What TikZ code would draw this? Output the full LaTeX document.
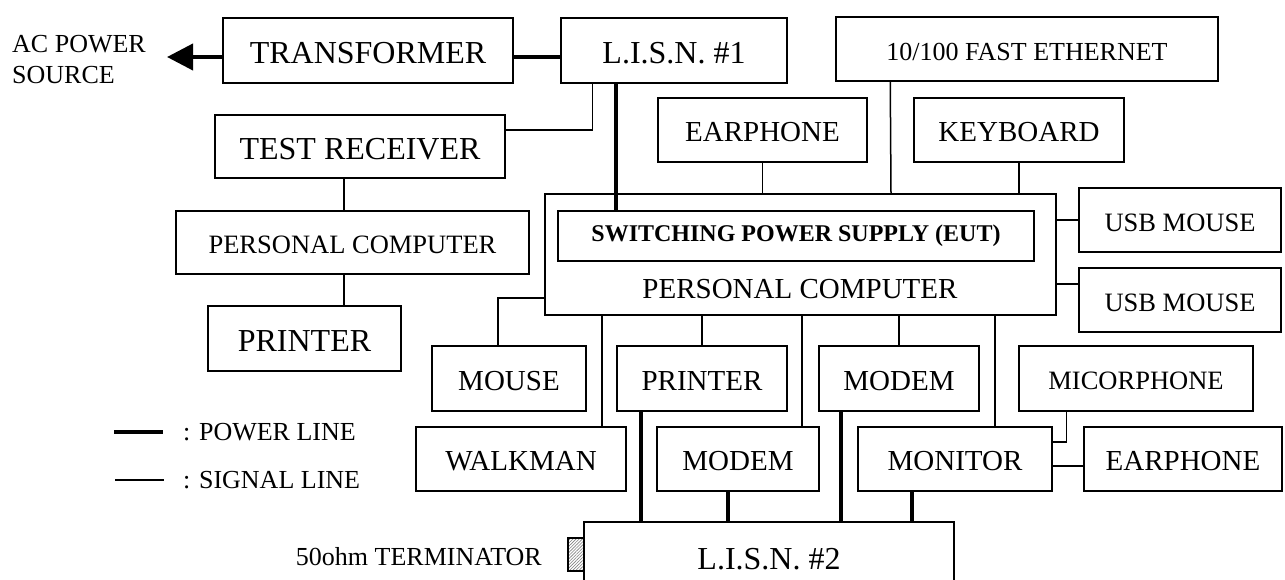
\documentclass[tikz,border=0pt]{standalone}
\usepackage{fontspec}
\setmainfont{Liberation Serif}
\usetikzlibrary{arrows.meta,patterns.meta}
% lower a label a little inside its box, keeping the box size
\newcommand\lowr[1]{\raisebox{-2.5pt}[\height][\depth]{#1}}
\tikzset{
  unit/.style={draw,line width=1.5pt,inner sep=0pt,align=center},
  big/.style={font=\fontsize{32}{36}\selectfont},
  mid/.style={font=\fontsize{29}{33}\selectfont},
  sml/.style={font=\fontsize{26.5}{31}\selectfont},
  note/.style={inner sep=0pt,font=\fontsize{26}{31}\selectfont},
  sig/.style={line width=1.5pt},
  pwr/.style={line width=4pt},
}
\begin{document}
\begin{tikzpicture}[x=1pt,y=-1pt]
\clip (0,0) rectangle (1285,580);
\fill[white] (0,0) rectangle (1285,580);

% top row
\node[unit,big,minimum width=290pt,minimum height=65pt] (tr) at (368,50.5) {\lowr{TRANSFORMER}};
\node[unit,big,minimum width=226pt,minimum height=65pt] (l1) at (674,50.5) {\lowr{L.I.S.N. \#1}};
\node[unit,font=\fontsize{26}{30}\selectfont,minimum width=382pt,minimum height=64pt] (eth) at (1027,49) {\lowr{10/100 FAST ETHERNET}};
\node[note,anchor=west,align=left] (ac) at (12,59.5) {AC POWER\\SOURCE};
\coordinate (actip) at (167,57);

% measuring side
\node[unit,big,minimum width=290pt,minimum height=63pt] (tst) at (360,146.5) {\lowr{TEST RECEIVER}};
\node[unit,sml,minimum width=353pt,minimum height=63pt] (pcl) at (352.5,242.5) {\lowr{PERSONAL COMPUTER}};
\node[unit,big,minimum width=193pt,minimum height=65pt] (prl) at (304.5,338.5) {\lowr{PRINTER}};

% units above the EUT host
\node[unit,mid,minimum width=209pt,minimum height=64pt] (ear1) at (762.5,130) {\lowr{EARPHONE}};
\node[unit,mid,minimum width=210pt,minimum height=64pt] (kb) at (1019,130) {\lowr{KEYBOARD}};

% EUT host computer
\node[unit,minimum width=511pt,minimum height=121pt] (pc) at (800.5,254.5) {};
\node[unit,font=\bfseries\fontsize{24}{28}\selectfont,minimum width=476pt,minimum height=50pt] (sps) at (796,236) {SWITCHING POWER SUPPLY (EUT)};
\node[mid] (pctxt) at (800,289) {PERSONAL COMPUTER};

% right side
\node[unit,sml,minimum width=202pt,minimum height=64pt] (usb1) at (1180,220) {\lowr{USB MOUSE}};
\node[unit,sml,minimum width=202pt,minimum height=64pt] (usb2) at (1180,300) {\lowr{USB MOUSE}};

% peripherals below
\node[unit,mid,minimum width=154pt,minimum height=65pt] (mouse) at (509,378.5) {\lowr{MOUSE}};
\node[unit,mid,minimum width=170pt,minimum height=65pt] (prm) at (702,378.5) {\lowr{PRINTER}};
\node[unit,mid,minimum width=160pt,minimum height=65pt] (mdu) at (899,378.5) {\lowr{MODEM}};
\node[unit,sml,minimum width=234pt,minimum height=65pt] (mic) at (1136,378.5) {\lowr{MICORPHONE}};
\node[unit,mid,minimum width=210pt,minimum height=64pt] (walk) at (521,459) {\lowr{WALKMAN}};
\node[unit,mid,minimum width=162pt,minimum height=64pt] (mdl) at (738,459) {\lowr{MODEM}};
\node[unit,mid,minimum width=194pt,minimum height=64pt] (mon) at (955,459) {\lowr{MONITOR}};
\node[unit,mid,minimum width=198pt,minimum height=64pt] (ear2) at (1183,459) {\lowr{EARPHONE}};

% second LISN and its terminator
\node[unit,big,minimum width=370pt,minimum height=74pt] (l2) at (769,559) {L.I.S.N. \#2};
\node[draw,line width=1.5pt,inner sep=0pt,minimum width=16pt,minimum height=33pt,
      pattern={Lines[angle=45,distance=2.2pt,line width=0.6pt]},pattern color=gray] (term) at (576,554.5) {};
\node[note,anchor=east] (termtxt) at (542,557) {50ohm TERMINATOR};

% legend
\coordinate (pa) at (114,432);
\coordinate (pb) at (163,432);
\coordinate (sa) at (115,480);
\coordinate (sb) at (164,480);
\draw[pwr] (pa) -- (pb);
\draw[sig] (sa) -- (sb);
\node[note,anchor=west] (lgp) at (183,432) {: POWER LINE};
\node[note,anchor=west] (lgs) at (183,480) {: SIGNAL LINE};

% power lines
\draw[pwr,-{Triangle[length=26pt,width=26pt]}] (tr.west |- actip) -- (actip);
\draw[pwr] (tr.east |- actip) -- (l1.west |- actip);
\draw[pwr] ([xshift=56pt]l1.south west) -- ([xshift=59pt]sps.north west);
\draw[pwr] ([xshift=25pt]prm.south west) -- ([xshift=58pt]l2.north west);
\draw[pwr] ([xshift=72pt]mdl.south west) -- ([xshift=145pt]l2.north west);
\draw[pwr] ([xshift=23pt]mdu.south west) -- ([xshift=258pt]l2.north west);
\draw[pwr] ([xshift=55pt]mon.south west) -- ([xshift=329pt]l2.north west);

% signal lines
\draw[sig] ([xshift=32pt]l1.south west) |- (tst.east |- 0,130);
\draw[sig] ([xshift=-16pt]tst.south) -- ([xshift=-8.5pt]pcl.north);
\draw[sig] ([xshift=-8.5pt]pcl.south) -- ([xshift=39.5pt]prl.north);
\draw[sig] (ear1.south) -- (pc.north -| ear1.south);
\draw[sig] (kb.south) -- (pc.north -| kb.south);
\draw[sig] ([xshift=55pt]eth.south west) -- (pc.north -| 891,0);
\draw[sig] (pc.east |- 0,220) -- (usb1.west);
\draw[sig] (pc.east |- 0,284) -- (usb2.west |- 0,284);
\draw[sig] (pc.west |- 0,298) -| ([xshift=-11pt]mouse.north);
\draw[sig] (pc.south -| 602,0) -- (walk.north -| 602,0);
\draw[sig] (pc.south -| prm.north) -- (prm.north);
\draw[sig] (pc.south -| 802,0) -- (mdl.north -| 802,0);
\draw[sig] (pc.south -| mdu.north) -- (mdu.north);
\draw[sig] (pc.south -| 995,0) -- (mon.north -| 995,0);
\draw[sig] ([xshift=48pt]mic.south west) |- (mon.east |- 0,442);
\draw[sig] (mon.east |- 0,466) -- (ear2.west |- 0,466);
\end{tikzpicture}
\end{document}
